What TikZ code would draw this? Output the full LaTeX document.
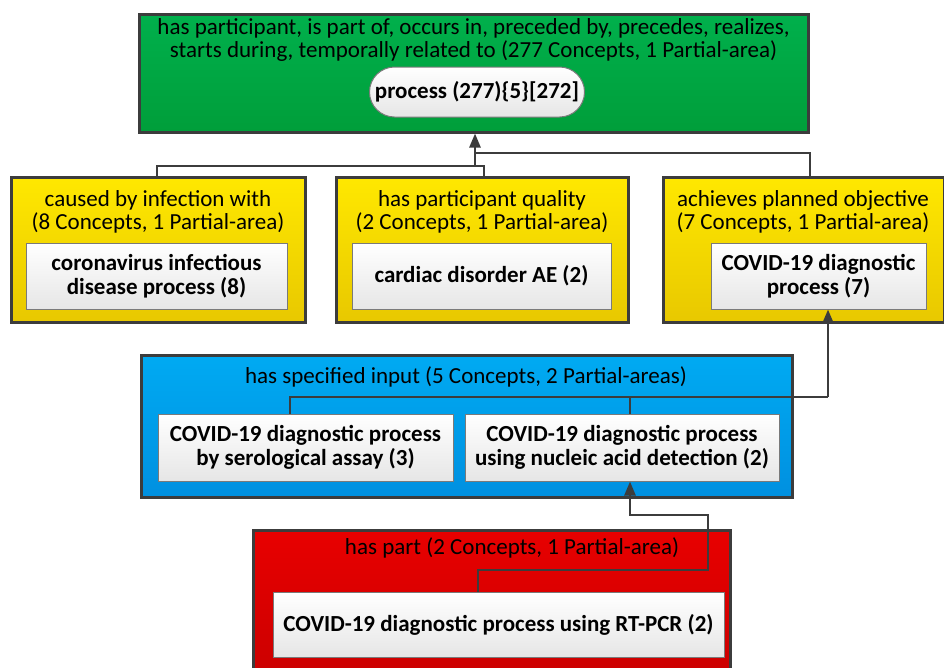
\documentclass[tikz,border=0pt]{standalone}
\usepackage{fontspec}
\setmainfont{Carlito}
\usetikzlibrary{arrows.meta,calc}
\definecolor{bord}{HTML}{3C3C3C}
\definecolor{greenT}{HTML}{00B04C}
\definecolor{greenB}{HTML}{009E3A}
\definecolor{yelT}{HTML}{FFE800}
\definecolor{yelB}{HTML}{E8C800}
\definecolor{bluT}{HTML}{00AAF2}
\definecolor{bluB}{HTML}{0090E0}
\definecolor{redT}{HTML}{E80000}
\definecolor{redB}{HTML}{CC0000}
\definecolor{inB}{HTML}{E6E6E6}
\definecolor{inBord}{HTML}{7A7A7A}
\tikzset{
  x=1pt,y=-1pt,
  group/.style={draw=bord,line width=3pt,inner sep=0pt},
  greenbox/.style={group,top color=greenT,bottom color=greenB},
  yelbox/.style={group,top color=yelT,bottom color=yelB},
  blubox/.style={group,top color=bluT,bottom color=bluB},
  redbox/.style={group,top color=redT,bottom color=redB},
  concept/.style={draw=inBord,line width=1pt,top color=white,bottom color=inB,
    font=\fontsize{23}{24}\selectfont\bfseries,align=center,inner sep=2pt},
  gtitle/.style={font=\fontsize{23}{23.5}\selectfont,align=center,inner sep=0pt},
  conn/.style={draw=bord,line width=2.5pt},
  arr/.style={conn,-{Triangle[length=14pt,width=11pt]}},
}
\begin{document}
\begin{tikzpicture}
\useasboundingbox (0,0) rectangle (944,667);
% group boxes
\node[greenbox,minimum width=669,minimum height=118] (green) at (473.5,73) {};
\node[yelbox,minimum width=294,minimum height=145] (y1) at (158,249.5) {};
\node[yelbox,minimum width=292,minimum height=145] (y2) at (482,249.5) {};
\node[yelbox,minimum width=281,minimum height=145] (y3) at (803.5,249.5) {};
\node[blubox,minimum width=651,minimum height=142] (blue) at (466.5,426) {};
\node[redbox,minimum width=477,minimum height=142] (red) at (491.5,601) {};
% titles
\node[gtitle] (tg) at (473.5,40) {has participant, is part of, occurs in, preceded by, precedes, realizes,\\starts during, temporally related to (277 Concepts, 1 Partial-area)};
\node[gtitle] (t1) at (158,212) {caused by infection with\\(8 Concepts, 1 Partial-area)};
\node[gtitle] (t2) at (482,212) {has participant quality\\(2 Concepts, 1 Partial-area)};
\node[gtitle] (t3) at (803,212) {achieves planned objective\\(7 Concepts, 1 Partial-area)};
\node[gtitle] (tb) at (466,377) {has specified input (5 Concepts, 2 Partial-areas)};
\node[gtitle] (tr) at (512,548) {has part (2 Concepts, 1 Partial-area)};
% concept nodes
\node[concept,rounded corners=25pt,minimum width=215,minimum height=50] (proc) at (477,92) {process (277)\{5\}[272]};
\node[concept,minimum width=261,minimum height=66] (c1) at (156.5,276) {coronavirus infectious\\disease process (8)};
\node[concept,minimum width=259,minimum height=66] (c2) at (481.5,276) {cardiac disorder AE (2)};
\node[concept,minimum width=215,minimum height=66] (c3) at (818.5,276) {COVID-19 diagnostic\\process (7)};
\node[concept,minimum width=295,minimum height=67] (b1) at (305.5,447.5) {COVID-19 diagnostic process\\by serological assay (3)};
\node[concept,minimum width=314,minimum height=67] (b2) at (622,447.5) {COVID-19 diagnostic process\\using nucleic acid detection (2)};
\node[concept,minimum width=451,minimum height=65] (r1) at (498.5,624.5) {COVID-19 diagnostic process using RT-PCR (2)};
% helper coordinates
\coordinate (j1) at (475,166);
\coordinate (j2) at (475,153);
\coordinate (x157) at (157,0);
\coordinate (x484) at (484,0);
\coordinate (x810) at (810,0);
\coordinate (k) at (828,397);
\coordinate (x290) at (290,0);
\coordinate (x630) at (630,0);
\coordinate (x478) at (478,0);
\coordinate (m1) at (708,570);
\coordinate (m2) at (630,515);
% connectors
\draw[conn] (y1.north -| x157) |- (j1);
\draw[conn] (y2.north -| x484) |- (j1);
\draw[conn] (y3.north -| x810) |- (j2);
\draw[arr] (j1) -- (green.south -| j1);
\draw[conn] (b1.north -| x290) |- (k);
\draw[conn] (b2.north -| x630) -- (k -| x630);
\draw[arr] (k) -- (c3.south -| k);
\draw[arr] (r1.north -| x478) |- (m1) |- (m2) -- (b2.south -| m2);
\end{tikzpicture}
\end{document}
